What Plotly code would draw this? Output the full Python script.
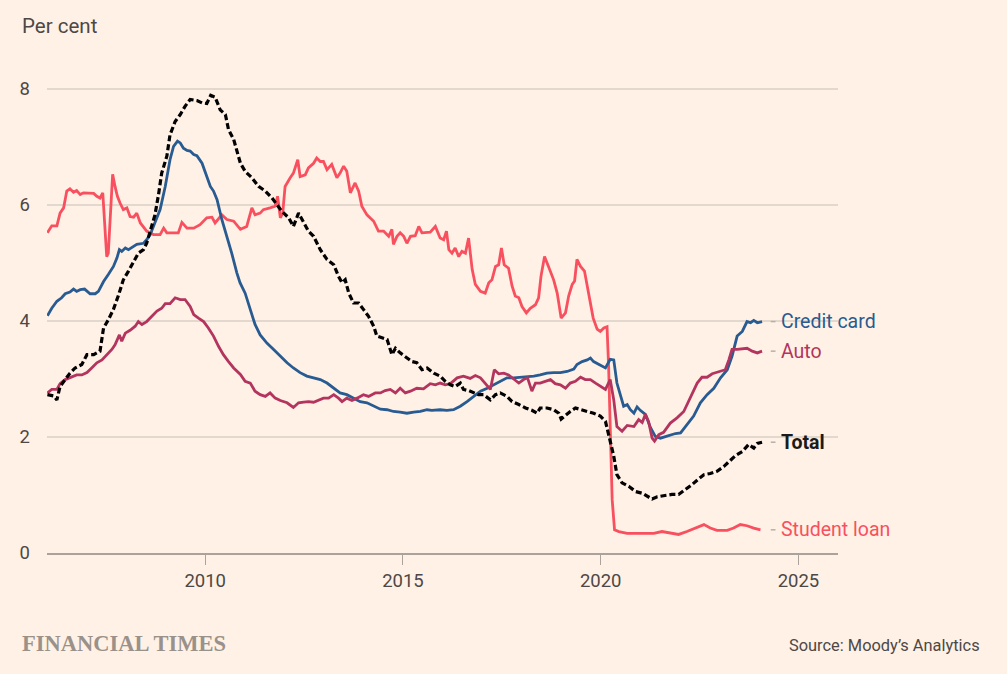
import plotly.graph_objects as go

# ---------------- data ----------------
student_x = [2006.01, 2006.12, 2006.25, 2006.33, 2006.42, 2006.50, 2006.58, 2006.67, 2006.75, 2006.84, 2006.92,
             2007.18, 2007.26, 2007.34, 2007.41, 2007.47, 2007.51, 2007.55, 2007.60, 2007.66, 2007.72, 2007.78,
             2007.85, 2007.93, 2008.02, 2008.10, 2008.19, 2008.27, 2008.36, 2008.52, 2008.69, 2008.86, 2008.95,
             2009.03, 2009.20, 2009.32, 2009.41, 2009.54, 2009.71, 2009.87, 2010.04, 2010.17, 2010.25, 2010.42,
             2010.55, 2010.72, 2010.89, 2011.05, 2011.18, 2011.26, 2011.39, 2011.47, 2011.64, 2011.77, 2011.83,
             2011.90, 2011.96, 2012.02, 2012.15, 2012.23, 2012.34, 2012.40, 2012.53, 2012.61, 2012.74, 2012.82,
             2012.91, 2012.99, 2013.08, 2013.20, 2013.33, 2013.41, 2013.50, 2013.58, 2013.67, 2013.79, 2013.88,
             2013.96, 2014.09, 2014.26, 2014.38, 2014.51, 2014.64, 2014.72, 2014.76, 2014.85, 2014.93, 2015.02,
             2015.10, 2015.19, 2015.31, 2015.40, 2015.48, 2015.69, 2015.82, 2015.94, 2016.03, 2016.10, 2016.16,
             2016.24, 2016.32, 2016.41, 2016.49, 2016.58, 2016.66, 2016.75, 2016.83, 2016.96, 2017.08, 2017.17,
             2017.25, 2017.34, 2017.42, 2017.49, 2017.56, 2017.67, 2017.76, 2017.84, 2017.93, 2018.01, 2018.12,
             2018.22, 2018.35, 2018.43, 2018.49, 2018.58, 2018.68, 2018.81, 2018.90, 2019.00, 2019.11, 2019.19,
             2019.28, 2019.34, 2019.40, 2019.49, 2019.59, 2019.70, 2019.81, 2019.91, 2019.99, 2020.08, 2020.16,
             2020.20, 2020.24, 2020.29, 2020.35, 2020.46, 2020.67, 2020.92, 2021.17, 2021.34, 2021.55, 2021.76,
             2021.97, 2022.18, 2022.39, 2022.61, 2022.77, 2022.94, 2023.20, 2023.36, 2023.53, 2023.70, 2023.87,
             2024.04]
student_y = [5.52, 5.64, 5.64, 5.86, 5.95, 6.24, 6.28, 6.22, 6.25, 6.18, 6.21,
             6.20, 6.15, 6.12, 6.21, 5.52, 5.11, 5.17, 5.75, 6.53, 6.32, 6.15,
             6.03, 5.92, 5.95, 5.80, 5.79, 5.86, 5.69, 5.55, 5.49, 5.49, 5.60,
             5.52, 5.52, 5.52, 5.70, 5.60, 5.60, 5.66, 5.78, 5.79, 5.69, 5.83,
             5.75, 5.72, 5.58, 5.63, 5.95, 5.83, 5.86, 5.92, 5.95, 5.98, 6.15,
             5.78, 5.86, 6.32, 6.47, 6.55, 6.78, 6.49, 6.52, 6.64, 6.72, 6.81,
             6.75, 6.75, 6.61, 6.70, 6.47, 6.55, 6.67, 6.58, 6.21, 6.38, 6.24,
             5.98, 5.83, 5.72, 5.55, 5.55, 5.46, 5.58, 5.32, 5.46, 5.52, 5.46,
             5.34, 5.46, 5.47, 5.63, 5.52, 5.53, 5.63, 5.43, 5.40, 5.55, 5.23,
             5.17, 5.26, 5.11, 5.20, 5.17, 5.43, 4.89, 4.63, 4.51, 4.48, 4.66,
             4.71, 4.94, 4.97, 5.26, 4.97, 4.91, 4.60, 4.43, 4.40, 4.25, 4.14,
             4.22, 4.28, 4.40, 4.77, 5.11, 4.94, 4.71, 4.48, 4.05, 4.14, 4.43,
             4.63, 4.69, 5.06, 4.94, 4.86, 4.48, 4.05, 3.86, 3.82, 3.88, 3.90,
             3.22, 2.07, 0.92, 0.40, 0.37, 0.34, 0.34, 0.33, 0.34, 0.37, 0.34,
             0.32, 0.37, 0.43, 0.49, 0.43, 0.39, 0.39, 0.43, 0.49, 0.47, 0.43,
             0.40]

credit_x = [2006.01, 2006.12, 2006.25, 2006.37, 2006.46, 2006.58, 2006.67, 2006.75, 2006.84, 2006.95, 2007.09,
            2007.22, 2007.30, 2007.43, 2007.55, 2007.68, 2007.77, 2007.83, 2007.89, 2007.98, 2008.06, 2008.19,
            2008.27, 2008.44, 2008.52, 2008.61, 2008.73, 2008.86, 2008.99, 2009.11, 2009.20, 2009.30, 2009.37,
            2009.45, 2009.54, 2009.62, 2009.71, 2009.79, 2009.92, 2010.04, 2010.13, 2010.21, 2010.30, 2010.42,
            2010.55, 2010.67, 2010.80, 2010.88, 2011.01, 2011.14, 2011.26, 2011.39, 2011.56, 2011.73, 2011.90,
            2012.07, 2012.23, 2012.40, 2012.57, 2012.74, 2012.91, 2013.08, 2013.25, 2013.41, 2013.58, 2013.75,
            2013.92, 2014.09, 2014.26, 2014.43, 2014.60, 2014.76, 2014.93, 2015.10, 2015.27, 2015.44, 2015.61,
            2015.73, 2015.94, 2016.11, 2016.28, 2016.45, 2016.62, 2016.79, 2016.96, 2017.13, 2017.29, 2017.46,
            2017.63, 2017.80, 2017.97, 2018.14, 2018.31, 2018.47, 2018.64, 2018.81, 2018.98, 2019.15, 2019.32,
            2019.40, 2019.53, 2019.66, 2019.74, 2019.82, 2019.95, 2020.12, 2020.24, 2020.33, 2020.41, 2020.50,
            2020.58, 2020.67, 2020.75, 2020.84, 2020.92, 2021.00, 2021.13, 2021.26, 2021.38, 2021.51, 2021.64,
            2021.76, 2021.89, 2022.02, 2022.18, 2022.35, 2022.52, 2022.69, 2022.86, 2023.03, 2023.20, 2023.32,
            2023.45, 2023.58, 2023.70, 2023.79, 2023.87, 2023.96, 2024.08]
credit_y = [4.09, 4.22, 4.34, 4.40, 4.47, 4.50, 4.55, 4.51, 4.54, 4.55, 4.47,
            4.47, 4.51, 4.68, 4.80, 4.94, 5.09, 5.23, 5.20, 5.26, 5.23, 5.29,
            5.32, 5.34, 5.40, 5.49, 5.69, 5.92, 6.32, 6.78, 7.01, 7.10, 7.07,
            6.98, 6.94, 6.93, 6.87, 6.85, 6.72, 6.49, 6.32, 6.24, 6.09, 5.75,
            5.46, 5.17, 4.83, 4.66, 4.48, 4.20, 3.94, 3.76, 3.62, 3.51, 3.39,
            3.28, 3.19, 3.11, 3.05, 3.02, 2.99, 2.93, 2.84, 2.76, 2.73, 2.67,
            2.61, 2.59, 2.54, 2.48, 2.47, 2.44, 2.43, 2.41, 2.43, 2.44, 2.47,
            2.46, 2.47, 2.46, 2.47, 2.53, 2.61, 2.70, 2.79, 2.84, 2.90, 2.96,
            3.02, 3.02, 3.03, 3.03, 3.05, 3.07, 3.10, 3.11, 3.11, 3.13, 3.17,
            3.25, 3.30, 3.33, 3.36, 3.30, 3.25, 3.19, 3.34, 3.33, 2.93, 2.70,
            2.53, 2.56, 2.47, 2.41, 2.52, 2.46, 2.39, 2.16, 2.01, 1.98, 2.01,
            2.04, 2.06, 2.07, 2.21, 2.36, 2.59, 2.73, 2.84, 3.02, 3.16, 3.39,
            3.74, 3.82, 3.99, 3.97, 4.01, 3.97, 3.99]

auto_x = [2006.01, 2006.12, 2006.25, 2006.33, 2006.46, 2006.58, 2006.67, 2006.75, 2006.88, 2007.01, 2007.13,
          2007.26, 2007.39, 2007.51, 2007.64, 2007.72, 2007.83, 2007.89, 2007.98, 2008.10, 2008.23, 2008.31,
          2008.40, 2008.52, 2008.65, 2008.78, 2008.90, 2008.99, 2009.11, 2009.24, 2009.37, 2009.49, 2009.62,
          2009.71, 2009.83, 2009.96, 2010.08, 2010.21, 2010.34, 2010.46, 2010.59, 2010.72, 2010.89, 2011.01,
          2011.14, 2011.26, 2011.39, 2011.52, 2011.64, 2011.77, 2011.90, 2012.07, 2012.23, 2012.36, 2012.49,
          2012.61, 2012.74, 2012.87, 2012.99, 2013.12, 2013.25, 2013.37, 2013.46, 2013.58, 2013.71, 2013.84,
          2014.00, 2014.13, 2014.30, 2014.43, 2014.55, 2014.68, 2014.81, 2014.93, 2015.06, 2015.19, 2015.35,
          2015.52, 2015.69, 2015.82, 2015.94, 2016.07, 2016.20, 2016.37, 2016.53, 2016.70, 2016.83, 2016.96,
          2017.08, 2017.21, 2017.31, 2017.42, 2017.55, 2017.67, 2017.80, 2017.93, 2018.05, 2018.15, 2018.26,
          2018.35, 2018.47, 2018.60, 2018.73, 2018.85, 2018.98, 2019.11, 2019.23, 2019.36, 2019.49, 2019.61,
          2019.74, 2019.87, 2019.99, 2020.12, 2020.24, 2020.33, 2020.41, 2020.54, 2020.67, 2020.84, 2020.96,
          2021.05, 2021.13, 2021.21, 2021.30, 2021.36, 2021.47, 2021.59, 2021.76, 2021.93, 2022.10, 2022.27,
          2022.44, 2022.56, 2022.69, 2022.82, 2022.99, 2023.15, 2023.24, 2023.32, 2023.45, 2023.58, 2023.70,
          2023.83, 2023.96, 2024.08]
auto_y = [2.76, 2.82, 2.82, 2.92, 2.99, 3.02, 3.05, 3.07, 3.07, 3.11, 3.19,
          3.28, 3.33, 3.42, 3.51, 3.59, 3.76, 3.65, 3.79, 3.84, 3.91, 3.99,
          3.94, 3.99, 4.08, 4.17, 4.22, 4.30, 4.30, 4.40, 4.37, 4.37, 4.25,
          4.11, 4.05, 3.99, 3.88, 3.74, 3.56, 3.42, 3.30, 3.19, 3.08, 2.96,
          2.93, 2.79, 2.73, 2.70, 2.76, 2.67, 2.63, 2.59, 2.51, 2.59, 2.60,
          2.61, 2.60, 2.64, 2.67, 2.67, 2.73, 2.67, 2.61, 2.67, 2.63, 2.67,
          2.73, 2.70, 2.76, 2.76, 2.80, 2.82, 2.76, 2.84, 2.76, 2.79, 2.84,
          2.83, 2.92, 2.90, 2.93, 2.90, 2.92, 3.02, 3.05, 3.01, 3.06, 3.02,
          2.92, 2.82, 3.16, 3.09, 3.10, 3.07, 3.00, 2.93, 2.99, 3.02, 2.79,
          2.93, 2.93, 2.96, 2.99, 2.92, 2.90, 2.84, 2.93, 2.96, 3.03, 2.99,
          2.99, 2.93, 2.87, 2.82, 2.99, 2.64, 2.18, 2.10, 2.20, 2.18, 2.30,
          2.25, 2.39, 2.27, 1.98, 1.93, 2.04, 2.08, 2.24, 2.33, 2.44, 2.70,
          2.93, 3.03, 3.03, 3.09, 3.13, 3.16, 3.33, 3.51, 3.51, 3.52, 3.53,
          3.48, 3.45, 3.48]

total_x = [2006.01, 2006.16, 2006.25, 2006.33, 2006.46, 2006.58, 2006.71, 2006.88, 2007.01, 2007.18, 2007.34,
           2007.43, 2007.55, 2007.68, 2007.81, 2007.93, 2008.06, 2008.19, 2008.31, 2008.44, 2008.52, 2008.61,
           2008.73, 2008.82, 2008.90, 2009.03, 2009.11, 2009.24, 2009.37, 2009.49, 2009.62, 2009.79, 2009.92,
           2010.04, 2010.14, 2010.25, 2010.38, 2010.51, 2010.59, 2010.72, 2010.84, 2010.89, 2011.01, 2011.18,
           2011.35, 2011.52, 2011.69, 2011.81, 2011.94, 2012.11, 2012.23, 2012.36, 2012.49, 2012.61, 2012.74,
           2012.91, 2013.08, 2013.25, 2013.37, 2013.46, 2013.54, 2013.63, 2013.75, 2013.88, 2014.00, 2014.13,
           2014.26, 2014.34, 2014.47, 2014.60, 2014.72, 2014.81, 2014.93, 2015.10, 2015.23, 2015.35, 2015.48,
           2015.61, 2015.78, 2015.94, 2016.07, 2016.20, 2016.32, 2016.45, 2016.53, 2016.66, 2016.79, 2016.91,
           2017.04, 2017.21, 2017.34, 2017.46, 2017.63, 2017.76, 2017.93, 2018.10, 2018.26, 2018.39, 2018.47,
           2018.64, 2018.81, 2018.94, 2019.00, 2019.11, 2019.23, 2019.36, 2019.49, 2019.66, 2019.82, 2019.99,
           2020.12, 2020.24, 2020.33, 2020.41, 2020.54, 2020.71, 2020.88, 2021.05, 2021.17, 2021.30, 2021.43,
           2021.59, 2021.80, 2021.97, 2022.14, 2022.31, 2022.48, 2022.61, 2022.77, 2022.94, 2023.11, 2023.24,
           2023.41, 2023.58, 2023.74, 2023.87, 2023.96, 2024.08]
total_y = [2.73, 2.71, 2.64, 2.87, 2.99, 3.10, 3.19, 3.25, 3.42, 3.42, 3.48,
           3.88, 4.02, 4.20, 4.45, 4.71, 4.86, 5.03, 5.17, 5.23, 5.34, 5.55,
           5.83, 6.18, 6.55, 6.84, 7.21, 7.44, 7.56, 7.70, 7.82, 7.80, 7.76,
           7.75, 7.89, 7.86, 7.64, 7.56, 7.30, 7.13, 6.84, 6.72, 6.58, 6.47,
           6.32, 6.24, 6.12, 6.01, 5.89, 5.78, 5.63, 5.86, 5.69, 5.55, 5.46,
           5.23, 5.06, 4.97, 4.77, 4.66, 4.71, 4.48, 4.31, 4.31, 4.20, 4.08,
           3.91, 3.74, 3.71, 3.68, 3.42, 3.53, 3.45, 3.36, 3.30, 3.28, 3.16,
           3.19, 3.10, 3.05, 2.96, 2.90, 2.87, 2.93, 2.82, 2.80, 2.76, 2.73,
           2.73, 2.64, 2.73, 2.76, 2.70, 2.61, 2.56, 2.50, 2.46, 2.41, 2.50,
           2.50, 2.47, 2.41, 2.31, 2.38, 2.44, 2.50, 2.47, 2.44, 2.41, 2.36,
           2.27, 1.95, 1.67, 1.35, 1.21, 1.15, 1.06, 1.03, 0.98, 0.93, 0.97,
           0.99, 1.01, 1.01, 1.09, 1.18, 1.28, 1.35, 1.37, 1.41, 1.49, 1.58,
           1.68, 1.75, 1.87, 1.81, 1.89, 1.91]

series_names = ["Student loan", "Credit card", "Auto", "Total"]
x_ticks = [2010, 2015, 2020, 2025]
y_ticks = [0, 2, 4, 6, 8]

# ---------------- styling ----------------
BG = "#fff1e5"
colors = {"Student loan": "#f8505f", "Credit card": "#285b91", "Auto": "#b3345e", "Total": "#000000"}
FONT = "Roboto"
TXT = "#4d4845"

# the page body adds an 8px offset; compensate so the plot lands where the reference has it
OFF = 8
W, H = 1007 - OFF, 674 - OFF
ML, MR, MT, MB = 47 - OFF, 169, 80 - OFF, 121
PW, PH = W - ML - MR, H - MT - MB


def px_to_paper(px, py):
    return (px - OFF - ML) / PW, 1 - (py - OFF - MT) / PH


series = {
    "Student loan": (student_x, student_y),
    "Credit card": (credit_x, credit_y),
    "Auto": (auto_x, auto_y),
    "Total": (total_x, total_y),
}

fig = go.Figure()
for name in series_names:
    xs, ys = series[name]
    fig.add_trace(go.Scatter(
        x=xs, y=ys, mode="lines", name=name,
        line=dict(color=colors[name], width=3.2 if name == "Total" else 2.8,
                  dash="6px,3px" if name == "Total" else "solid"),
        hoverinfo="skip",
    ))

# end-of-line labels
for name in series_names:
    xs, ys = series[name]
    label = "<b>%s</b>" % name if name == "Total" else name
    fig.add_annotation(x=2024.5, y=ys[-1], xref="x", yref="y", text=label,
                       showarrow=False, xanchor="left", yanchor="middle",
                       font=dict(family=FONT, size=19.5,
                                 color=colors[name] if name != "Total" else "#1a1a1a"))
    fig.add_shape(type="line", x0=2024.3, x1=2024.42, y0=ys[-1], y1=ys[-1],
                  xref="x", yref="y", line=dict(color="#b8b0a8", width=1.5))

fig.update_layout(
    width=W, height=H,
    paper_bgcolor=BG, plot_bgcolor=BG,
    margin=dict(l=ML, r=MR, t=MT, b=MB, pad=0),
    showlegend=False,
    hovermode=False,
    font=dict(family=FONT, size=18.5, color=TXT),
    xaxis=dict(range=[2006, 2026], tickvals=x_ticks, ticktext=[str(t) for t in x_ticks],
               showgrid=False, zeroline=False, showline=True, linecolor="#aaa29b", linewidth=1.5,
               ticks="outside", ticklen=10, tickwidth=1.2, tickcolor="#aaa29b",
               tickfont=dict(family=FONT, size=18.5, color=TXT), fixedrange=True),
    yaxis=dict(range=[0, 8.155], tickvals=y_ticks, ticktext=[str(t) for t in y_ticks],
               showgrid=True, gridcolor="#e3d8cd", gridwidth=1.5, zeroline=False, showline=False,
               ticks="", ticklabelstandoff=16,
               tickfont=dict(family=FONT, size=18.5, color=TXT), fixedrange=True),
)

px_, py_ = px_to_paper(20, 26)
fig.add_annotation(x=px_, y=py_, xref="paper", yref="paper", text="Per cent", showarrow=False,
                   font=dict(family=FONT, size=20.5, color=TXT), xanchor="left", yanchor="middle")

fx, fy = px_to_paper(20, 643)
fig.add_annotation(x=fx, y=fy, xref="paper", yref="paper", text="<b>FINANCIAL TIMES</b>", showarrow=False,
                   xanchor="left", yanchor="middle",
                   font=dict(family="Liberation Serif", size=22.5, color="#9a918a"))
sx, sy = px_to_paper(982, 645)
fig.add_annotation(x=sx, y=sy, xref="paper", yref="paper", text="Source: Moody’s Analytics", showarrow=False,
                   xanchor="right", yanchor="middle",
                   font=dict(family=FONT, size=16.4, color=TXT))

fig.write_html(
    "out.html",
    config={"displayModeBar": False},
    post_script="document.body.style.background='%s';document.documentElement.style.background='%s';" % (BG, BG),
)
